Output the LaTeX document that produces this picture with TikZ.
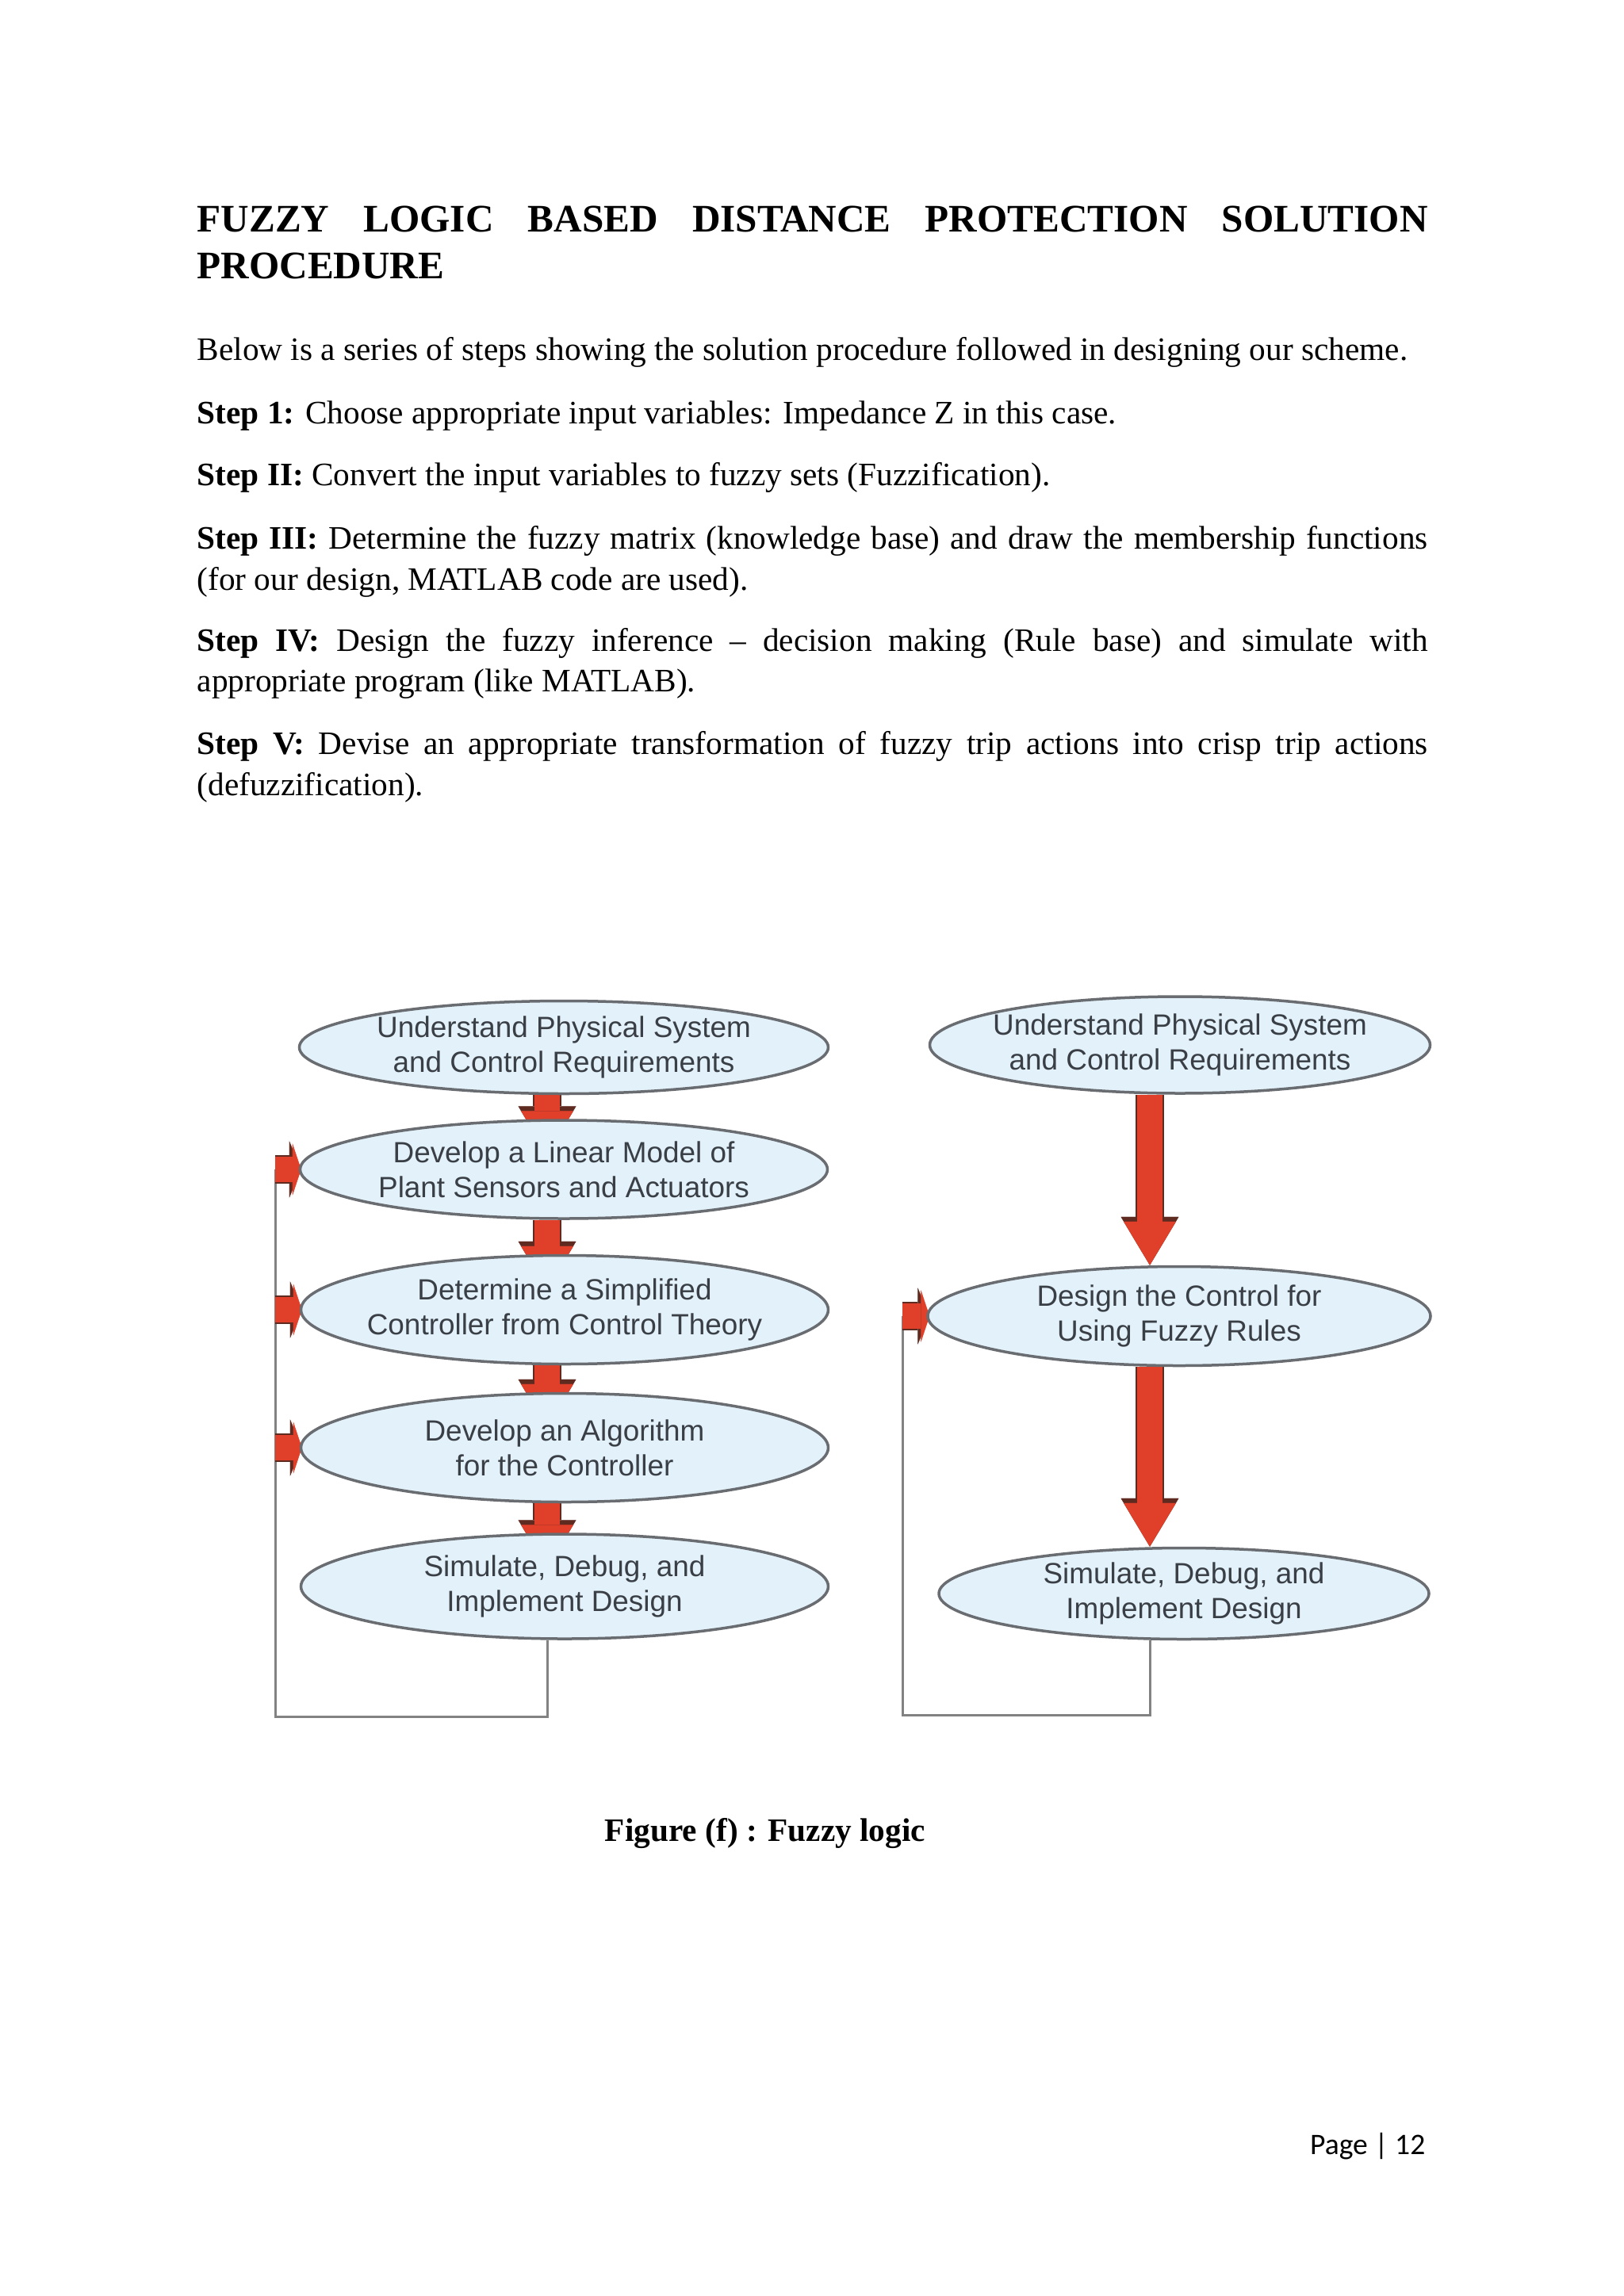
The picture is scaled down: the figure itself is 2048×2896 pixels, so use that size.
\documentclass[tikz,border=0pt]{standalone}
\usepackage{fontspec}
\setmainfont{Liberation Serif}
\newfontfamily\chartfont{Liberation Sans}
\newfontfamily\footfont{Carlito}
\usepackage{xcolor}
\usetikzlibrary{arrows.meta, shapes.geometric, backgrounds, calc}

\definecolor{bubblefill}{RGB}{227,241,250}
\definecolor{bubbleedge}{RGB}{105,108,112}
\definecolor{bubbletext}{RGB}{58,63,70}
\definecolor{arrowred}{RGB}{224,64,42}
\definecolor{arrowrim}{RGB}{95,42,32}
\definecolor{loopgray}{RGB}{130,130,130}

\tikzset{
  bubble/.style={ellipse, draw=bubbleedge, line width=0.35mm, fill=bubblefill, text=bubbletext, inner xsep=-3mm, inner ysep=0pt, minimum width=66.5mm, minimum height=13mm, align=center, font=\chartfont\fontsize{10.5}{12.5}\selectfont},
  fatarrow/.style={draw=arrowred, line width=3.2mm, -{Triangle[length=5.5mm, width=6.6mm, line width=0.1pt]}, preaction={draw=arrowrim, line width=3.6mm, -{Triangle[length=6.1mm, width=7.3mm, line width=0.1pt]}}},
  stubarrow/.style={draw=arrowred, line width=3.2mm, -{Triangle[length=1.1mm, width=6.6mm, line width=0.1pt]}, preaction={draw=arrowrim, line width=3.6mm, -{Triangle[length=1.5mm, width=7.2mm, line width=0.1pt]}}},
  loopline/.style={draw=loopgray, line width=0.3mm},
  para/.style={anchor=base west, inner sep=0pt, font=\fontsize{11.75}{14}\selectfont}
}

\begin{document}
\begin{tikzpicture}[x=0.1mm, y=-0.1mm]
\useasboundingbox (0,0) rectangle (2048,2896);

\node[para, font=\bfseries\fontsize{14}{17}\selectfont] (title1) at (248,293) {\makebox[155.2mm][s]{FUZZY LOGIC BASED DISTANCE PROTECTION SOLUTION}};
\node[para, font=\bfseries\fontsize{14}{17}\selectfont] (title2) at (248,352) {PROCEDURE};

\node[para] (intro) at (248,455) {Below is a series of steps showing the solution procedure followed in designing our scheme.};
\node[para] (step1) at (248,534) {\textbf{Step 1:} Choose appropriate input variables: Impedance Z in this case.};
\node[para] (step2) at (248,612) {\textbf{Step II:} Convert the input variables to fuzzy sets (Fuzzification).};
\node[para] (step3a) at (248,692) {\makebox[155.2mm][s]{\textbf{Step III:} Determine the fuzzy matrix (knowledge base) and draw the membership functions}};
\node[para] (step3b) at (248,744) {(for our design, MATLAB code are used).};
\node[para] (step4a) at (248,821) {\makebox[155.2mm][s]{\textbf{Step IV:} Design the fuzzy inference – decision making (Rule base) and simulate with}};
\node[para] (step4b) at (248,872) {appropriate program (like MATLAB).};
\node[para] (step5a) at (248,951) {\makebox[155.2mm][s]{\textbf{Step V:} Devise an appropriate transformation of fuzzy trip actions into crisp trip actions}};
\node[para] (step5b) at (248,1003) {(defuzzification).};

\node[bubble, minimum height=11.7mm, minimum width=66.7mm] (l1) at (711,1321) {Understand Physical System\\and Control Requirements};
\node[bubble, minimum height=12.4mm] (l2) at (711,1475) {Develop a Linear Model of\\Plant Sensors and Actuators};
\node[bubble, minimum height=13.7mm] (l3) at (712,1652) {Determine a Simplified\\Controller from Control Theory};
\node[bubble, minimum height=13.7mm] (l4) at (712,1826) {Develop an Algorithm\\for the Controller};
\node[bubble, minimum height=13.2mm] (l5) at (712,2001) {Simulate, Debug, and\\Implement Design};

\node[bubble, minimum height=12.2mm, minimum width=63.1mm] (r1) at (1488,1318) {Understand Physical System\\and Control Requirements};
\node[bubble, minimum height=12.5mm, minimum width=63.4mm] (r2) at (1487,1660) {Design the Control for\\Using Fuzzy Rules};
\node[bubble, minimum height=11.5mm, minimum width=61.8mm] (r3) at (1493,2010) {Simulate, Debug, and\\Implement Design};

\coordinate (laxis) at (690,0);
\coordinate (lcorner) at (347,2165);
\coordinate (raxis) at (1450,0);
\coordinate (rcorner) at (1138,2163);

\begin{scope}[on background layer]
\fill[white] (0,0) rectangle (2048,2896);
\draw[fatarrow] (l1.south -| laxis) -- ($(l2.north -| laxis)+(0,45)$);
\draw[fatarrow] (l2.south -| laxis) -- ($(l3.north -| laxis)+(0,45)$);
\draw[fatarrow] (l3.south -| laxis) -- ($(l4.north -| laxis)+(0,45)$);
\draw[fatarrow] (l4.south -| laxis) -- ($(l5.north -| laxis)+(0,45)$);
\draw[loopline] (l5.south -| laxis) |- (lcorner) -- (lcorner |- l2);
\foreach \n in {2,3,4}
  \draw[stubarrow] (lcorner |- l\n) -- ($(l\n.west)+(3,0)$);

\draw[fatarrow] (r1.south -| raxis) -- (r2.north -| raxis);
\draw[fatarrow] (r2.south -| raxis) -- (r3.north -| raxis);
\draw[loopline] (r3.south -| raxis) |- (rcorner) -- (rcorner |- r2);
\draw[stubarrow] (rcorner |- r2) -- ($(r2.west)+(4,0)$);
\end{scope}

\node[para, anchor=base, font=\bfseries\fontsize{11.75}{14}\selectfont] (caption) at (965,2322) {Figure (f) : Fuzzy logic};
\node[para, anchor=base east, font=\footfont\fontsize{10.7}{13}\selectfont] (pageno) at (1798,2717) {Page | 12};
\end{tikzpicture}
\end{document}
